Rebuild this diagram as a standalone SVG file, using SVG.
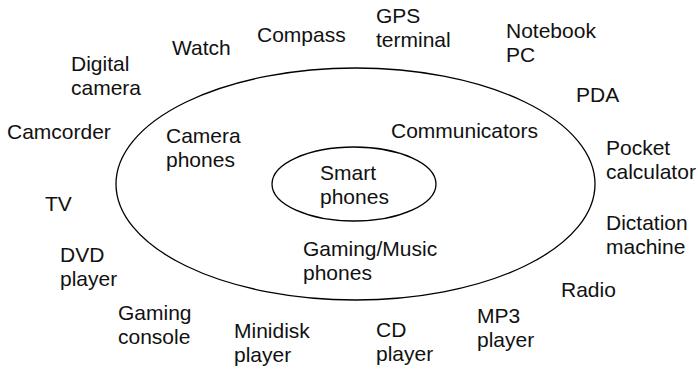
<svg xmlns="http://www.w3.org/2000/svg" width="698" height="370" viewBox="0 0 698 370">
  <style>
    .ring { fill: none; stroke: #000; stroke-width: 1.3; }
    text { font-family: "Liberation Sans", Arial, sans-serif; font-size: 21px; fill: #111; }
  </style>
  <rect width="698" height="370" fill="#fff"/>

  <!-- nested device categories -->
  <g id="outer-ring"><ellipse class="ring" cx="355.5" cy="184" rx="239.5" ry="116"/></g>
  <g id="inner-ring"><ellipse class="ring" cx="354" cy="184" rx="82" ry="37"/></g>

  <!-- phone categories inside the rings -->
  <g id="smart-phones"><text x="320" y="180">Smart</text><text x="320" y="204">phones</text></g>
  <g id="camera-phones"><text x="166" y="143">Camera</text><text x="166" y="167">phones</text></g>
  <g id="communicators"><text x="391" y="138">Communicators</text></g>
  <g id="gaming-music-phones"><text x="303" y="256">Gaming/Music</text><text x="303" y="280">phones</text></g>

  <!-- devices around the outside -->
  <g id="watch"><text x="172" y="55">Watch</text></g>
  <g id="compass"><text x="257" y="42">Compass</text></g>
  <g id="gps"><text x="376" y="23">GPS</text><text x="376" y="47">terminal</text></g>
  <g id="notebook"><text x="506" y="38">Notebook</text><text x="506" y="62">PC</text></g>
  <g id="digital-camera"><text x="71" y="71">Digital</text><text x="71" y="95">camera</text></g>
  <g id="pda"><text x="576" y="102">PDA</text></g>
  <g id="camcorder"><text x="7" y="139">Camcorder</text></g>
  <g id="pocket-calculator"><text x="606" y="155">Pocket</text><text x="606" y="179">calculator</text></g>
  <g id="tv"><text x="45" y="211">TV</text></g>
  <g id="dictation-machine"><text x="606" y="230">Dictation</text><text x="606" y="254">machine</text></g>
  <g id="dvd-player"><text x="60" y="262">DVD</text><text x="60" y="286">player</text></g>
  <g id="radio"><text x="561" y="297">Radio</text></g>
  <g id="gaming-console"><text x="118" y="320">Gaming</text><text x="118" y="344">console</text></g>
  <g id="mp3-player"><text x="477" y="323">MP3</text><text x="477" y="347">player</text></g>
  <g id="minidisk-player"><text x="234" y="338">Minidisk</text><text x="234" y="362">player</text></g>
  <g id="cd-player"><text x="376" y="337">CD</text><text x="376" y="361">player</text></g>

  <g id="connectors"/>
</svg>
